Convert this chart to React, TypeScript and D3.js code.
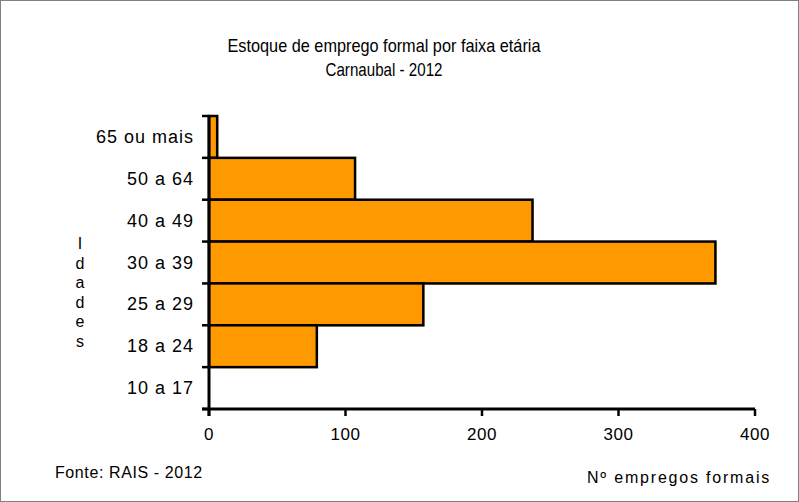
import * as d3 from "d3";

const categories = ["65 ou mais", "50 a 64", "40 a 49", "30 a 39", "25 a 29", "18 a 24", "10 a 17"];
const values = [6, 107, 237, 371, 157, 79, 0];
const xTickValues = [0, 100, 200, 300, 400];
const titleLines = ["Estoque de emprego formal por faixa etária", "Carnaubal - 2012"];
const yAxisLetters = ["I", "d", "a", "d", "e", "s"];

const W = 799;
const H = 502;
const plot = { left: 209, right: 755, top: 116, bottom: 409 };
const font = "'Liberation Sans', Arial, sans-serif";
const titleWidths = [313, 117];

export default function App() {
  const x = d3.scaleLinear().domain([0, 400]).range([plot.left, plot.right]);
  const y = d3
    .scaleBand<string>()
    .domain(categories)
    .range([plot.top, plot.bottom])
    .padding(0);

  const boundaries = d3.range(categories.length + 1).map((i) => plot.top + i * y.step());

  return (
    <svg
      width={W}
      height={H}
      style={{ position: "absolute", left: 0, top: 0, fontFamily: font }}
    >
      <rect x={0.5} y={0.5} width={W - 1} height={H - 1} fill="#fff" stroke="#808080" />

      {/* Title */}
      {titleLines.map((t, i) => (
        <text
          key={t}
          x={384}
          y={52 + i * 24}
          textAnchor="middle"
          fontSize={18.5}
          fill="#000"
          textLength={titleWidths[i]}
          lengthAdjust="spacingAndGlyphs"
        >
          {t}
        </text>
      ))}

      {/* Bars */}
      {categories.map((c, i) => {
        const w = x(values[i]) - x(0);
        if (w <= 0) return null;
        const y0 = y(c)!;
        return (
          <g key={c}>
            <rect x={x(0) + 1} y={y0 + 1} width={w} height={y.bandwidth()} fill="#ff9900" />
            <rect
              x={x(0)}
              y={y0}
              width={w}
              height={y.bandwidth()}
              fill="#ff9900"
              stroke="#000"
              strokeWidth={2.5}
            />
          </g>
        );
      })}

      {/* Y axis */}
      <line x1={plot.left} x2={plot.left} y1={plot.top} y2={plot.bottom + 7} stroke="#000" strokeWidth={3} />
      {boundaries.map((b, i) => (
        <line key={i} x1={plot.left - 7} x2={plot.left} y1={b} y2={b} stroke="#000" strokeWidth={2.5} />
      ))}
      {categories.map((c) => (
        <text
          key={c}
          x={194}
          y={y(c)! + y.bandwidth() / 2}
          textAnchor="end"
          dominantBaseline="central"
          fontSize={18}
          letterSpacing={1}
          fill="#000"
        >
          {c}
        </text>
      ))}

      {/* X axis */}
      <line x1={plot.left - 7} x2={plot.right} y1={plot.bottom} y2={plot.bottom} stroke="#000" strokeWidth={3} />
      {xTickValues.map((v) => (
        <g key={v} transform={`translate(${x(v)}, ${plot.bottom})`}>
          <line y1={0} y2={7} stroke="#000" strokeWidth={2.5} />
          <text y={31} textAnchor="middle" fontSize={17} letterSpacing={0.5} fill="#000">
            {v}
          </text>
        </g>
      ))}

      {/* Y axis label, stacked letters */}
      {yAxisLetters.map((l, i) => (
        <text key={i} x={80} y={249 + i * 19.5} textAnchor="middle" fontSize={16} fill="#000">
          {l}
        </text>
      ))}

      <text x={55} y={478} fontSize={16} letterSpacing={0.6} fill="#000">
        Fonte: RAIS - 2012
      </text>
      <text x={587} y={483} fontSize={16} letterSpacing={1.8} fill="#000">
        Nº empregos formais
      </text>
    </svg>
  );
}
